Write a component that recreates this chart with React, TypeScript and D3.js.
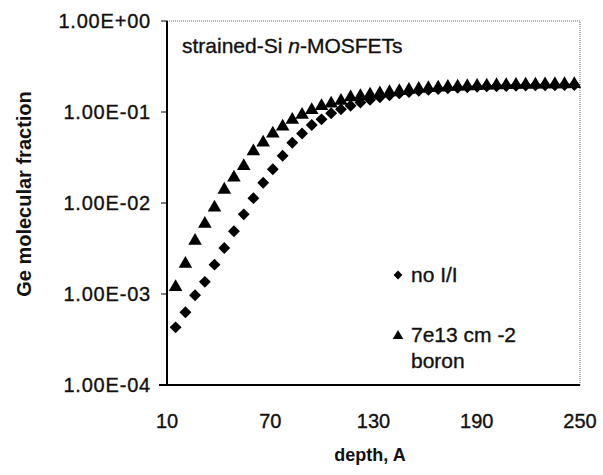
import React from "react";
import * as d3 from "d3";

// depth, A
const depths = [15, 20.7, 26.3, 32, 37.6, 43.3, 48.9, 54.6, 60.2, 65.9, 71.5, 77.2, 82.8, 88.5,
  94.1, 99.8, 105.4, 111.1, 116.7, 122.4, 128, 133.7, 139.3, 145, 150.6, 156.3, 161.9, 167.6,
  173.2, 178.9, 184.5, 190.2, 195.8, 201.5, 207.1, 212.8, 218.4, 224.1, 229.7, 235.4, 241, 246.7];

// no I/I  (diamonds)
const noII = [4.3e-4, 6.3e-4, 9.7e-4, 1.36e-3, 2.1e-3, 3.2e-3, 4.9e-3, 7.5e-3, 1.13e-2, 1.67e-2,
  2.35e-2, 3.3e-2, 4.6e-2, 5.8e-2, 7.2e-2, 8.3e-2, 9.7e-2, 0.107, 0.117, 0.127, 0.136, 0.145,
  0.153, 0.16, 0.166, 0.171, 0.175, 0.179, 0.182, 0.185, 0.187, 0.189, 0.191, 0.192, 0.193,
  0.194, 0.195, 0.196, 0.197, 0.197, 0.198, 0.198];

// 7e13 cm-2 boron (triangles)
const boron = [1.19e-3, 2.14e-3, 3.85e-3, 5.9e-3, 8.9e-3, 1.4e-2, 1.9e-2, 2.55e-2, 3.7e-2, 4.6e-2,
  5.8e-2, 6.9e-2, 8.2e-2, 9.3e-2, 0.105, 0.116, 0.124, 0.133, 0.145, 0.15, 0.155, 0.16, 0.165,
  0.17, 0.175, 0.18, 0.183, 0.186, 0.189, 0.19, 0.192, 0.194, 0.195, 0.197, 0.198, 0.199, 0.2,
  0.2, 0.201, 0.202, 0.202, 0.203];

const xTicks = [10, 70, 130, 190, 250];
const yTicks = [1, 1e-1, 1e-2, 1e-3, 1e-4];
const yTickLabels = ["1.00E+00", "1.00E-01", "1.00E-02", "1.00E-03", "1.00E-04"];

const W = 603;
const H = 475;
const left = 167, right = 580, top = 21, bottom = 385;

const x = d3.scaleLinear().domain([10, 250]).range([left, right]);
const y = d3.scaleLog().domain([1e-4, 1]).range([bottom, top]);

const font = "'Liberation Sans', Arial, sans-serif";
const ink = "#111";
// scanned text looks a bit heavier than plain regular
const heavy = { fill: ink, stroke: ink, strokeWidth: 0.35 };

const diamond = d3.symbol().type(d3.symbolDiamond2).size(90)();
const triangle = d3.symbol().type(d3.symbolTriangle).size(80)();

export default function App() {
  return (
    <div style={{ position: "absolute", left: 0, top: 0 }}>
      <svg width={W} height={H} style={{ display: "block", background: "#fff" }} fontFamily={font}>
        {/* top / right frame, faint dotted */}
        <path d={`M${left},${top}H${right}V${bottom}`} fill="none" stroke="#666" strokeWidth={1} strokeDasharray="1 1" />
        {/* axes */}
        <line x1={left} x2={left} y1={top} y2={bottom + 1} stroke="#000" strokeWidth={2} />
        <line x1={left - 8} x2={right} y1={bottom} y2={bottom} stroke="#000" strokeWidth={2} />

        {yTicks.map((t, i) => (
          <g key={t}>
            <line x1={left - 6} x2={left} y1={y(t)} y2={y(t)} stroke="#000" strokeWidth={1} />
            <text x={151} y={y(t) + 7} textAnchor="end" fontSize={20} letterSpacing={0.8} {...heavy}>{yTickLabels[i]}</text>
          </g>
        ))}
        {xTicks.map((t) => (
          <text key={t} x={x(t)} y={428} textAnchor="middle" fontSize={20} {...heavy}>{t}</text>
        ))}

        <text x={370} y={461} textAnchor="middle" fontSize={18} fontWeight="bold" fill={ink}>depth, A</text>
        <text transform="translate(31,194) rotate(-90)" textAnchor="middle" fontSize={20} fontWeight="bold" fill={ink}>Ge molecular fraction</text>

        <text x={182} y={53} fontSize={21} {...heavy}>
          strained-Si <tspan fontStyle="italic">n</tspan>-MOSFETs
        </text>

        {depths.map((d, i) => (
          <path key={"d" + i} d={diamond} transform={`translate(${x(d)},${y(noII[i])})`} fill="#000" />
        ))}
        {depths.map((d, i) => (
          <path key={"t" + i} d={triangle} transform={`translate(${x(d)},${y(boron[i])})`} fill="#000" />
        ))}

        {/* legend */}
        <path d={d3.symbol().type(d3.symbolDiamond2).size(50)()} transform="translate(398,275)" fill="#000" />
        <text x={411} y={282} fontSize={21} {...heavy}>no I/I</text>
        <path d={d3.symbol().type(d3.symbolTriangle).size(48)()} transform="translate(398,336)" fill="#000" />
        <text x={411} y={342} fontSize={21} {...heavy}>7e13 cm -2</text>
        <text x={411} y={368} fontSize={21} {...heavy}>boron</text>
      </svg>
    </div>
  );
}
